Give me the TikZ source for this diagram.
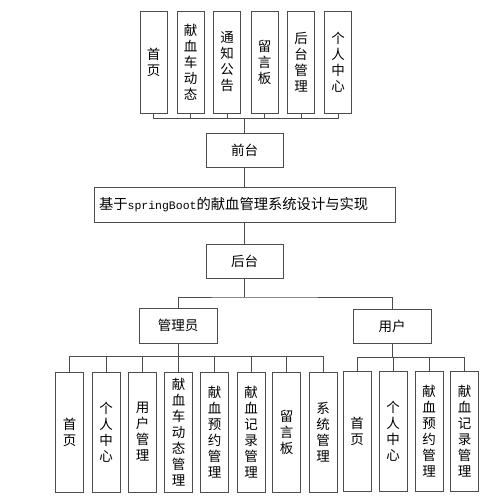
\documentclass[tikz,border=0pt]{standalone}
\usepackage{fontspec}
\newfontfamily\cjk{Noto Sans CJK SC}
\newfontfamily\mono{Liberation Mono}
\tikzset{
  box/.style={draw=black!70, line width=0.7pt, fill=white, inner sep=0pt, align=center, font=\cjk\fontsize{13.5}{16}\selectfont},
  vbox/.style={box, minimum width=27pt, minimum height=102pt},
  vboxlow/.style={box, minimum width=28pt, minimum height=120pt},
  hbox/.style={box, minimum width=77pt, minimum height=34pt},
  link/.style={draw=black!70, line width=0.7pt}
}

\begin{document}
\begin{tikzpicture}[x=1pt,y=-1pt]
\useasboundingbox (0,0) rectangle (500,501);

\node[vbox] (t1) at (153.5,62) {首\\页};
\node[vbox] (t2) at (190.5,62) {献\\血\\车\\动\\态};
\node[vbox] (t3) at (227,62) {通\\知\\公\\告};
\node[vbox] (t4) at (264.5,62) {留\\言\\板};
\node[vbox] (t5) at (301,62) {后\\台\\管\\理};
\node[vbox] (t6) at (338,62) {个\\人\\中\\心};

\node[hbox] (qiantai) at (244.5,150) {前台};
\node[box, minimum width=301pt, minimum height=35pt, text width=291pt, inner xsep=5pt, align=left, font=\cjk\fontsize{14.3}{16}\selectfont] (title) at (244.5,204.5) {基于{\mono\fontsize{11.5}{16}\selectfont springBoot}的献血管理系统设计与实现};
\node[hbox] (houtai) at (244.5,261.5) {后台};
\node[hbox, minimum width=78pt, minimum height=35pt] (admin) at (178,325.5) {管理员};
\node[hbox, minimum width=78pt, minimum height=34pt] (user) at (392,326) {用户};

\node[vboxlow] (a1) at (69.5,432) {首\\页};
\node[vboxlow] (a2) at (106,432) {个\\人\\中\\心};
\node[vboxlow] (a3) at (142.5,432) {用\\户\\管\\理};
\node[vboxlow] (a4) at (178.5,432) {献\\血\\车\\动\\态\\管\\理};
\node[vboxlow] (a5) at (214.5,432) {献\\血\\预\\约\\管\\理};
\node[vboxlow] (a6) at (251,432) {献\\血\\记\\录\\管\\理};
\node[vboxlow] (a7) at (286.5,432) {留\\言\\板};
\node[vboxlow] (a8) at (323,432) {系\\统\\管\\理};

\node[vboxlow] (u1) at (357,431) {首\\页};
\node[vboxlow] (u2) at (393,431) {个\\人\\中\\心};
\node[vboxlow] (u3) at (429,431) {献\\血\\预\\约\\管\\理};
\node[vboxlow] (u4) at (464.5,431) {献\\血\\记\\录\\管\\理};

\coordinate (topbus) at (244.5,118);
\coordinate (midbus) at (244.5,297);
\coordinate (adminbus) at (178,356);
\coordinate (userbus) at (392,357);

\foreach \i in {1,...,6} \draw[link] (t\i.south) |- (topbus);
\draw[link] (topbus) -- (qiantai.north);
\draw[link] (qiantai.south) -- (title.north);
\draw[link] (title.south) -- (houtai.north);
\draw[link] (houtai.south) -- (midbus);
\draw[link] (admin.north) |- (midbus) -| (user.north);
\draw[link] (admin.south) -- (adminbus);
\foreach \i in {1,...,8} \draw[link] (a\i.north) |- (adminbus);
\draw[link] (user.south) -- (userbus);
\foreach \i in {1,...,4} \draw[link] (u\i.north) |- (userbus);
\end{tikzpicture}
\end{document}
